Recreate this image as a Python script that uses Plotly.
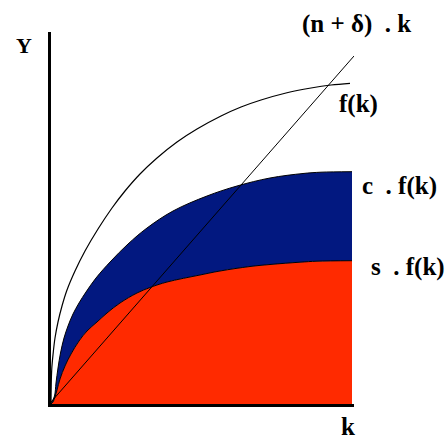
import plotly.graph_objects as go

# Data (x: capital k, y: output)
fk_x = [0, 0.7, 2.3, 4, 7, 11, 16, 24, 34, 47, 61, 74, 89, 106, 126, 146, 170, 190, 210, 235, 260, 280, 299]
fk_y = [0, 34, 52, 66, 82, 98, 114, 133, 153, 175, 196, 213, 230, 246, 262, 275, 288, 297, 304, 311, 316, 319, 320.7]

cfk_x = [0, 3.5, 5, 7, 9.5, 13, 17, 22, 28, 35, 45, 60, 77, 96, 122, 156, 186, 219, 252, 270, 301]
cfk_y = [0, 8, 21, 36, 51, 66, 78, 90, 101, 112, 126, 143, 160, 176, 193, 208, 218, 226, 230.5, 231.8, 232.3]

sfk_x = [0, 2, 4, 6, 9, 14, 20, 28, 36, 46, 56, 69, 86, 99, 116, 149, 169, 199, 219, 249, 266, 301]
sfk_y = [0, 2, 7, 14, 25, 38, 50, 63, 73, 82, 91, 101, 111, 116.5, 122, 129, 133, 137.5, 139.5, 141.8, 142.8, 143.3]

line_x = [0, 303]
line_y = [2, 348]

labels = ["Y", "(n + δ)\u00a0\u00a0.\u00a0k", "f(k)", "c\u00a0\u00a0.\u00a0f(k)", "s\u00a0\u00a0.\u00a0f(k)", "k"]

RED = "#ff2a00"
BLUE = "#021880"

L, T, W, H = 51, 32, 303, 372  # plot area in pixels

fig = go.Figure()
fig.add_trace(go.Scatter(x=sfk_x, y=sfk_y, mode="lines", fill="tozeroy",
                         fillcolor=RED, line=dict(color="black", width=1, shape="spline", smoothing=1),
                         hoverinfo="skip"))
fig.add_trace(go.Scatter(x=cfk_x, y=cfk_y, mode="lines", fill="tonexty",
                         fillcolor=BLUE, line=dict(color="black", width=1, shape="spline", smoothing=1),
                         hoverinfo="skip"))
fig.add_trace(go.Scatter(x=fk_x, y=fk_y, mode="lines", line=dict(color="black", width=1.2,
                         shape="spline", smoothing=1), hoverinfo="skip"))
fig.add_trace(go.Scatter(x=line_x, y=line_y, mode="lines",
                         line=dict(color="black", width=1), hoverinfo="skip"))

# label anchors (left edge, vertical centre) in page pixels
ann_px = [(14, 46, 22), (300, 24, 25), (337, 104, 25), (360, 186, 25), (369, 267, 25), (339, 426, 25)]
for (px, py, sz), txt in zip(ann_px, labels):
    fig.add_annotation(x=(px - L) / W, y=(T + H - py) / H, xref="paper", yref="paper",
                       text="<b>" + txt + "</b>",
                       showarrow=False, xanchor="left", yanchor="middle",
                       font=dict(family="Liberation Serif", size=sz, color="black"))

fig.update_layout(
    width=446, height=439,
    margin=dict(l=L, r=446 - L - W, t=T, b=439 - T - H),
    paper_bgcolor="white", plot_bgcolor="white",
    showlegend=False,
    xaxis=dict(range=[0, 303], showgrid=False, zeroline=False, showticklabels=False,
               ticks="", showline=True, linecolor="black", linewidth=3),
    yaxis=dict(range=[0, 372], showgrid=False, zeroline=False, showticklabels=False,
               ticks="", showline=True, linecolor="black", linewidth=3),
)
fig.write_html("out.html", config={"displayModeBar": False},
               post_script="document.body.style.margin='0';")
